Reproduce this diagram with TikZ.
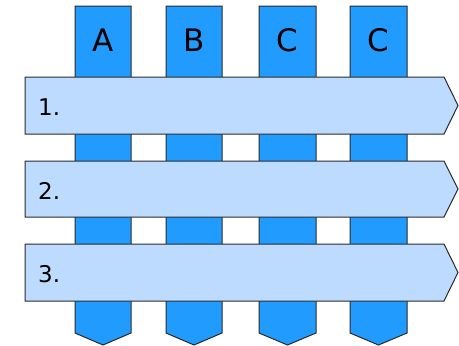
\documentclass[tikz,border=0pt]{standalone}
\usepackage{fontspec}
\setmainfont{DejaVu Sans}
\definecolor{colblue}{HTML}{229BFF}
\definecolor{rowblue}{HTML}{BDDBFF}
\definecolor{edge}{HTML}{2A2A2A}
\begin{document}
\begin{tikzpicture}[x=1pt,y=-1pt,
  colshape/.style={fill=colblue,draw=edge,line width=1pt,line join=miter},
  rowshape/.style={fill=rowblue,draw=edge,line width=1pt,line join=miter},
  coltext/.style={font=\fontsize{31}{31}\selectfont,text=black,inner sep=0pt},
  rowtext/.style={font=\fontsize{23}{23}\selectfont,text=black,inner sep=0pt,anchor=west}]
\useasboundingbox (0,0) rectangle (459,346);
% columns
\foreach \xl/\xr/\lab/\nm in {75/131/A/ca,166/222/B/cb,259/316/C/cc,350/407/C/cd}{
  \path[colshape] (\xl,6) -- (\xr,6) -- (\xr,333) -- ({(\xl+\xr)/2},345) -- (\xl,333) -- cycle;
  \node[coltext] (\nm) at ({(\xl+\xr)/2},40) {\lab};
}
% rows
\foreach \yt/\yb/\lab/\nm in {77/134/1./ra,161/217/2./rb,244/301/3./rc}{
  \path[rowshape] (25,\yt) -- (444,\yt) -- (458,{(\yt+\yb)/2}) -- (444,\yb) -- (25,\yb) -- cycle;
  \node[rowtext] (\nm) at (38,{(\yt+\yb)/2+2}) {\lab};
}
\end{tikzpicture}
\end{document}
